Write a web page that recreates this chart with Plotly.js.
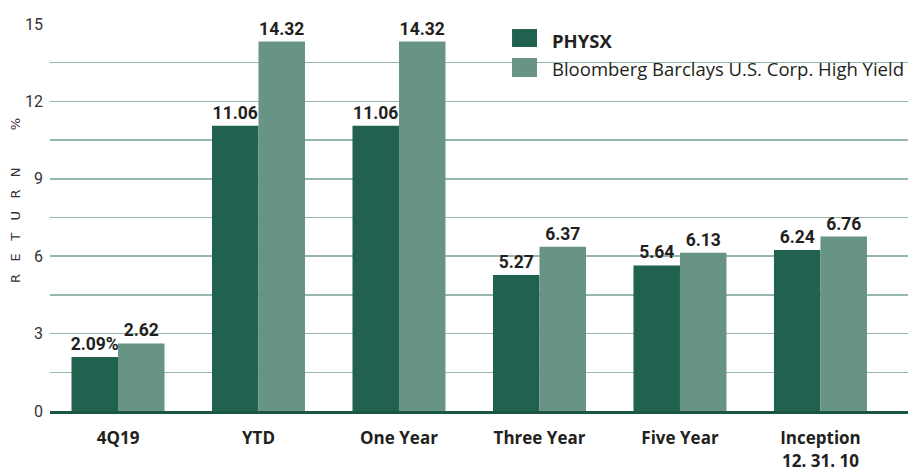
<!DOCTYPE html>
<html>
<head>
<meta charset="utf-8">
<script src="https://cdn.plot.ly/plotly-3.0.1.min.js"></script>
<style>html,body{margin:0;padding:0;background:#fff;}#chart{width:908px;height:472px;}</style>
</head>
<body>
<div id="chart"></div>
<script>
const categories = ['4Q19', 'YTD', 'One Year', 'Three Year', 'Five Year', 'Inception<br>12. 31. 10'];
const seriesNames = ['PHYSX', 'Bloomberg Barclays U.S. Corp. High Yield'];
const physx = [2.09, 11.06, 11.06, 5.27, 5.64, 6.24];
const bench = [2.62, 14.32, 14.32, 6.37, 6.13, 6.76];
const tickVals = [0, 1.5, 3, 4.5, 6, 7.5, 9, 10.5, 12, 13.5, 15];
const tickText = ['0', '', '3', '', '6', '', '9', '', '12', '', '15'];

const darkC = '#216150';
const lightC = '#679484';
const xIdx = categories.map((c, i) => i);
const physxText = physx.map((v, i) => v.toFixed(2) + (i === 0 ? '%' : ''));
const benchText = bench.map(v => v.toFixed(2));

const valFont = {family: 'Roboto, sans-serif', size: 17.5, color: '#231f20', weight: 'bold'};

const traces = [
  {type: 'bar', x: xIdx, y: physx, name: seriesNames[0], marker: {color: darkC},
   text: physxText, textposition: 'outside', constraintext: 'none', textfont: valFont, cliponaxis: false, hoverinfo: 'skip'},
  {type: 'bar', x: xIdx, y: bench, name: seriesNames[1], marker: {color: lightC},
   text: benchText, textposition: 'outside', constraintext: 'none', textfont: valFont, cliponaxis: false, hoverinfo: 'skip'}
];

const nb = '\u00A0';
const sp = nb.repeat(3);
const ytitle = ['R','E','T','U','R','N'].join(sp) + nb.repeat(9) + '%';

const layout = {
  width: 908, height: 472,
  margin: {l: 50, r: 0, t: 24, b: 61},
  paper_bgcolor: '#fff', plot_bgcolor: '#fff',
  barmode: 'group', bargap: 0.338, bargroupgap: 0,
  showlegend: false,
  xaxis: {
    range: [-0.484, 5.623], tickmode: 'array', tickvals: xIdx, ticktext: categories,
    showgrid: false, zeroline: false, showline: true, linecolor: '#1b5642', linewidth: 3,
    ticks: '', ticklabelstandoff: 10,
    tickfont: {family: 'Open Sans, sans-serif', size: 17, color: '#231f20', weight: 'bold'}
  },
  yaxis: {
    range: [0, 15], tickmode: 'array', tickvals: tickVals, ticktext: tickText,
    showgrid: true, gridcolor: '#94b8a9', gridwidth: 1.5, zeroline: false, showline: false,
    ticks: '', ticklabelstandoff: 6,
    tickfont: {family: 'Roboto, sans-serif', size: 16, color: '#333'}
  },
  shapes: [
    {type: 'rect', xref: 'paper', yref: 'paper', x0: 0.5385, x1: 0.5676, y0: 0.9406, y1: 0.987, fillcolor: darkC, line: {width: 0}},
    {type: 'rect', xref: 'paper', yref: 'paper', x0: 0.5385, x1: 0.5676, y0: 0.863, y1: 0.912, fillcolor: lightC, line: {width: 0}}
  ],
  annotations: [
    {xref: 'paper', yref: 'paper', x: 0.5828, y: 0.958, xanchor: 'left', yanchor: 'middle', showarrow: false,
     text: '<b>' + seriesNames[0] + '</b>', font: {family: 'Open Sans, sans-serif', size: 18.5, color: '#231f20'}},
    {xref: 'paper', yref: 'paper', x: 0.5828, y: 0.884, xanchor: 'left', yanchor: 'middle', showarrow: false,
     text: seriesNames[1], font: {family: 'Open Sans, sans-serif', size: 18.5, color: '#231f20'}},
    {xref: 'paper', yref: 'paper', x: -0.041, y: 0.545, xanchor: 'center', yanchor: 'middle', showarrow: false,
     textangle: -90, text: ytitle, font: {family: 'DejaVu Sans, sans-serif', size: 13, color: '#333'}}
  ]
};

Plotly.newPlot('chart', traces, layout, {displayModeBar: false, staticPlot: true});
</script>
</body>
</html>
